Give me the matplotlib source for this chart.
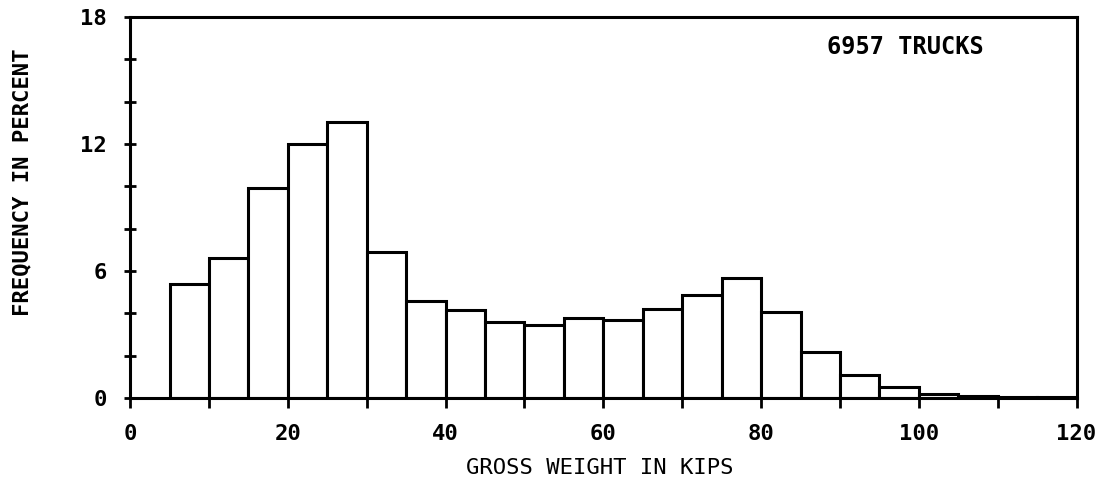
import matplotlib.pyplot as plt
from matplotlib.ticker import MultipleLocator

# bin left edges (kips) and frequency (percent)
bin_left = [5, 10, 15, 20, 25, 30, 35, 40, 45, 50, 55, 60, 65, 70, 75, 80,
            85, 90, 95, 100, 105, 110, 115]
freq = [5.4, 6.63, 9.9, 12.0, 13.05, 6.9, 4.6, 4.17, 3.6, 3.45, 3.77, 3.69,
        4.21, 4.88, 5.67, 4.04, 2.18, 1.07, 0.51, 0.2, 0.1, 0.06, 0.06]
bin_width = 5

plt.rcParams['font.family'] = ['DejaVu Sans Mono']

fig = plt.figure(figsize=(11.03, 4.83), dpi=100)
ax = fig.add_axes([0.118, 0.176, 0.858, 0.789])

ax.bar(bin_left, freq, width=bin_width, align='edge', color='white',
       edgecolor='black', linewidth=2.2)

ax.set_xlim(0, 120)
ax.set_ylim(0, 18)
ax.xaxis.set_major_locator(MultipleLocator(20))
ax.xaxis.set_minor_locator(MultipleLocator(10))
ax.yaxis.set_major_locator(MultipleLocator(6))
ax.yaxis.set_minor_locator(MultipleLocator(2))

for s in ax.spines.values():
    s.set_linewidth(2.2)

ax.tick_params(axis='x', which='both', direction='out', length=7, width=2,
               labelsize=16, pad=12)
ax.tick_params(axis='y', which='both', direction='inout', length=9, width=2,
               labelsize=16, pad=12)
for lbl in ax.get_xticklabels() + ax.get_yticklabels():
    lbl.set_fontweight('bold')

ax.set_xlabel('GROSS WEIGHT IN KIPS', fontsize=16)
ax.set_ylabel('FREQUENCY IN PERCENT', fontsize=16, fontweight='bold')
ax.xaxis.set_label_coords(0.496, -0.158)
ax.yaxis.set_label_coords(-0.103, 0.567)

ax.text(0.902, 0.92, '6957 TRUCKS', transform=ax.transAxes, ha='right',
        va='center', fontsize=17, fontweight='bold')

fig.savefig('out.png', dpi=100)
